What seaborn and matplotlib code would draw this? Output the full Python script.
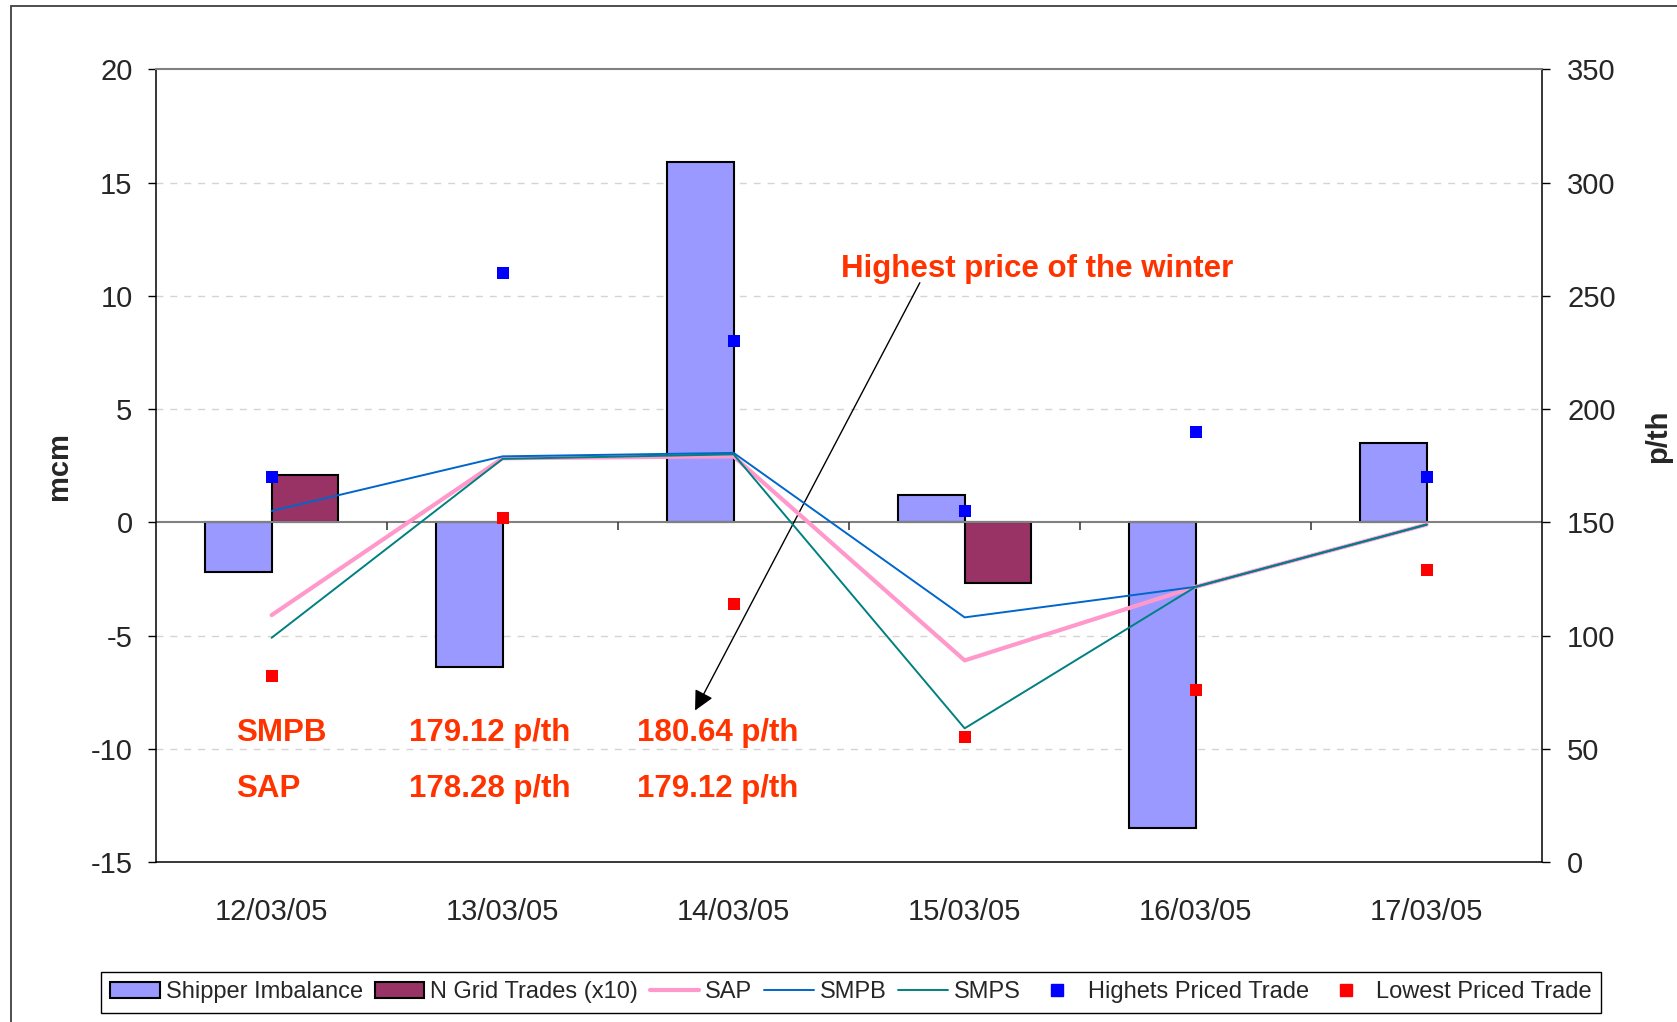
import numpy as np
import pandas as pd
import seaborn as sns
import matplotlib.pyplot as plt
from matplotlib.patches import Patch, Rectangle
from matplotlib.lines import Line2D

# data
dates = ['12/03/05', '13/03/05', '14/03/05', '15/03/05', '16/03/05', '17/03/05']
shipper = [-2.2, -6.4, 15.9, 1.2, -13.5, 3.5]
ngrid = [2.1, np.nan, np.nan, -2.7, np.nan, np.nan]
sap = [109, 178.28, 179.12, 89, 121.5, 149]
smpb = [155, 179.12, 180.64, 108, 121.5, 149]
smps = [99, 178, 180, 59, 121.5, 149]
high = [170, 260, 230, 155, 190, 170]
low = [82, 152, 114, 55, 76, 129]

left_ticks = [-15, -10, -5, 0, 5, 10, 15, 20]
right_ticks = [0, 50, 100, 150, 200, 250, 300, 350]

bars = pd.DataFrame({
    'Date': dates * 2,
    'value': shipper + ngrid,
    'series': ['Shipper Imbalance'] * 6 + ['N Grid Trades (x10)'] * 6,
})

sns.set_theme(style='white')
plt.rcParams['font.family'] = ['Liberation Sans', 'DejaVu Sans']

RED = '#FF3300'
c_ship, c_grid = '#9999FF', '#993366'
c_sap, c_smpb, c_smps = '#FF99CC', '#0066CC', '#008080'

fig = plt.figure(figsize=(16.77, 10.22), dpi=100)
ax1 = fig.add_axes([0.0931, 0.1566, 0.8265, 0.7755])

sns.barplot(data=bars, x='Date', y='value', hue='series',
            hue_order=['Shipper Imbalance', 'N Grid Trades (x10)'],
            palette=[c_ship, c_grid], width=0.574, edgecolor='black',
            linewidth=1.5, saturation=1, legend=False, ax=ax1)

ax1.set_ylim(-15, 20)
ax1.set_xlim(-0.5, len(dates) - 0.5)
ax1.set_yticks(left_ticks)
ax1.set_yticklabels([str(t) for t in left_ticks])
ax1.set_xlabel('')
ax1.set_ylabel('mcm', fontsize=21, fontweight='bold', va='center', ha='center')
ax1.yaxis.set_label_coords(-0.07, 0.5)
ax1.tick_params(axis='y', direction='out', length=6, width=1, color='black',
                labelsize=21, pad=11, left=True)
ax1.tick_params(axis='x', length=0, labelsize=21, pad=26)

for t in [-10, -5, 5, 10, 15]:
    ax1.axhline(t, color='#d4d4d4', lw=1, dashes=(5, 5), zorder=0)
ax1.axhline(0, color='#808080', lw=1.5, zorder=1)
# category boundary ticks on the zero line
ax1.vlines(np.arange(0.5, len(dates) - 0.5, 1), -0.35, 0, color='#404040', lw=1.2)

for s in ['left', 'right', 'bottom']:
    ax1.spines[s].set_color('black')
    ax1.spines[s].set_linewidth(1.1)
ax1.spines['top'].set_color('#808080')
ax1.spines['top'].set_linewidth(1.5)

ax2 = ax1.twinx()
xpos = np.arange(len(dates))
sns.lineplot(x=xpos, y=sap, color=c_sap, lw=3, ax=ax2)
sns.lineplot(x=xpos, y=smpb, color=c_smpb, lw=1.4, ax=ax2)
sns.lineplot(x=xpos, y=smps, color=c_smps, lw=1.4, ax=ax2)
sns.scatterplot(x=xpos, y=high, marker='s', s=80, color='#0000FF', linewidth=0, ax=ax2, zorder=5)
sns.scatterplot(x=xpos, y=low, marker='s', s=80, color='#FF0000', linewidth=0, ax=ax2, zorder=5)

ax2.set_ylim(0, 350)
ax2.set_xlim(-0.5, len(dates) - 0.5)
ax2.set_yticks(right_ticks)
ax2.set_yticklabels([str(t) for t in right_ticks])
ax2.set_ylabel('p/th', fontsize=21, fontweight='bold', rotation=90, va='center', ha='center')
ax2.yaxis.set_label_coords(1.0837, 0.5375)
ax2.tick_params(axis='y', direction='out', length=6, width=1, color='black',
                labelsize=21, pad=12, right=True)
ax2.grid(False)
for s in ax2.spines.values():
    s.set_visible(False)

# text annotations
txt = dict(color=RED, fontsize=22.5, fontweight='bold', va='center', ha='left')
ax1.text(-0.153, -9.3, 'SMPB', **txt)
ax1.text(0.593, -9.3, '179.12 p/th', **txt)
ax1.text(1.583, -9.3, '180.64 p/th', **txt)
ax1.text(-0.153, -11.8, 'SAP', **txt)
ax1.text(0.593, -11.8, '178.28 p/th', **txt)
ax1.text(1.583, -11.8, '179.12 p/th', **txt)
ax1.text(3.315, 11.2, 'Highest price of the winter', color=RED, fontsize=22.5,
         fontweight='bold', ha='center', va='center')
ax1.annotate('', xy=(1.833, -8.31), xytext=(2.806, 10.58),
             arrowprops=dict(arrowstyle='-|>', color='black', lw=1,
                             mutation_scale=30, shrinkA=0, shrinkB=0), zorder=6)

handles = [
    Patch(facecolor=c_ship, edgecolor='black', lw=1.5, label='Shipper Imbalance'),
    Patch(facecolor=c_grid, edgecolor='black', lw=1.5, label='N Grid Trades (x10)'),
    Line2D([], [], color=c_sap, lw=3, label='SAP'),
    Line2D([], [], color=c_smpb, lw=1.4, label='SMPB'),
    Line2D([], [], color=c_smps, lw=1.4, label='SMPS'),
    Line2D([], [], color='#0000FF', marker='s', ls='', ms=8, label='Highets Priced Trade'),
    Line2D([], [], color='#FF0000', marker='s', ls='', ms=8, label='Lowest Priced Trade'),
]
leg = fig.legend(handles=handles, loc='center', bbox_to_anchor=(0.5075, 0.029), ncol=7,
                 fontsize=17, handlelength=2.1, handletextpad=0.25, columnspacing=0.5,
                 borderpad=0.4, fancybox=False, framealpha=1, edgecolor='black')
leg.get_frame().set_linewidth(1.0)

# outer chart-area border
fig.patches.append(Rectangle((11 / 1677, -0.1), 1.2, 1 - 6 / 1022 + 0.1,
                             transform=fig.transFigure, fill=False,
                             edgecolor='#404040', lw=1.3, clip_on=False))

fig.savefig('out.png', dpi=100)
